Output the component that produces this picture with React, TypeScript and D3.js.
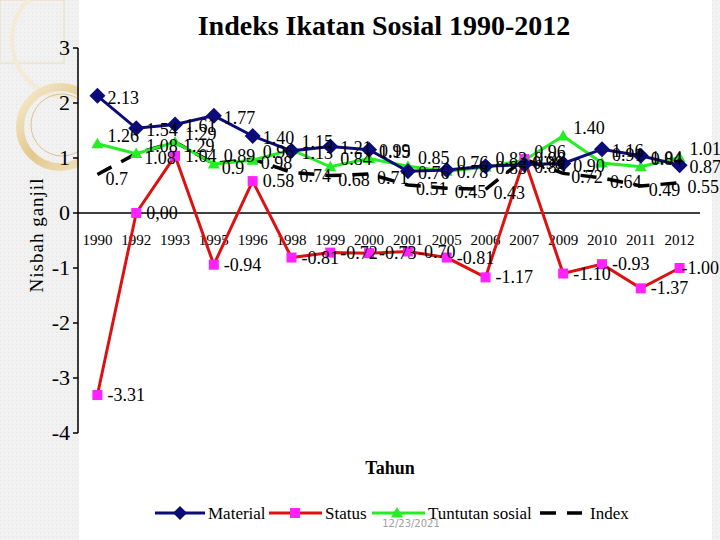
import React from "react";
import * as d3 from "d3";

const categories = ["1990","1992","1993","1995","1996","1998","1999","2000","2001","2005","2006","2007","2009","2010","2011","2012"];
const material = [2.13,1.54,1.61,1.77,1.40,1.13,1.21,1.15,0.76,0.78,0.85,0.88,0.90,1.16,1.04,0.87];
const status = [-3.31,0.00,1.04,-0.94,0.58,-0.81,-0.72,-0.73,-0.70,-0.81,-1.17,0.98,-1.10,-0.93,-1.37,-1.00];
const tuntutan = [1.26,1.08,1.29,0.89,0.96,1.15,0.84,0.99,0.85,0.76,0.83,0.96,1.40,0.91,0.84,1.01];
const indexVals = [0.7,1.08,1.29,0.90,0.98,0.74,0.68,0.71,0.51,0.45,0.43,0.98,0.72,0.64,0.49,0.55];
const yTicks = [3,2,1,0,-1,-2,-3,-4];

const W = 720, H = 540;
const serif = "'Liberation Serif', 'Times New Roman', serif";

export default function App() {
  const x = d3.scalePoint<string>().domain(categories).range([78, 699]).padding(0.5);
  const y = d3.scaleLinear().domain([-4, 3]).range([433, 48]);
  const line = d3.line<number>().x((_, i) => x(categories[i]) as number).y(d => y(d));

  const fmtStatus = (v: number) => (v === 0 ? "0,00" : v.toFixed(2));
  const fmt2 = (v: number) => v.toFixed(2);
  const fmtIdx = (v: number) => String(v);

  const labels = (vals: number[], f: (v: number) => string, key: string, dx = 10, dy = 6) =>
    vals.map((v, i) => (
      <text key={key + i} x={(x(categories[i]) as number) + (i === vals.length - 1 && key === "ls" ? 2 : dx)} y={y(v) + dy}
        fontFamily={serif} fontSize={18} fill="#000">{f(v)}</text>
    ));

  const diamond = (cx: number, cy: number, r: number, k: string) => (
    <path key={k} d={`M${cx},${cy - r}L${cx + r},${cy}L${cx},${cy + r}L${cx - r},${cy}Z`} fill="#0c0c78" />
  );
  const tri = (cx: number, cy: number, r: number, k: string) => (
    <path key={k} d={`M${cx},${cy - r}L${cx + r},${cy + r * 0.75}L${cx - r},${cy + r * 0.75}Z`} fill="#22ee22" />
  );

  return (
    <svg width={W} height={H} style={{ position: "absolute", left: 0, top: 0 }}>
      <defs>
        <pattern id="dots" width="4" height="4" patternUnits="userSpaceOnUse">
          <rect width="4" height="4" fill="#f1f1f1" />
          <rect width="1" height="1" fill="#e4e4e4" />
        </pattern>
        <linearGradient id="gold" x1="0" y1="0" x2="1" y2="1">
          <stop offset="0" stopColor="#f6ecd2" />
          <stop offset="0.5" stopColor="#e2c88e" />
          <stop offset="1" stopColor="#f3e6c6" />
        </linearGradient>
      </defs>
      <rect x={0} y={0} width={W} height={H} fill="url(#dots)" />
      <rect x={0} y={0} width={64} height={63} fill="none" stroke="#eadcbc" strokeWidth={1} />
      <circle cx={70} cy={40} r={58} fill="none" stroke="#f4ead6" strokeWidth={4} />
      <circle cx={60} cy={127} r={40} fill="none" stroke="url(#gold)" strokeWidth={8} />
      <circle cx={62} cy={125} r={31} fill="none" stroke="#dcc38c" strokeWidth={1} />
      <rect x={79} y={0} width={633} height={H} fill="#fff" />

      <text x={384} y={35} textAnchor="middle" fontFamily={serif} fontSize={28} fontWeight="bold">Indeks Ikatan Sosial 1990-2012</text>

      {/* axes */}
      <line x1={78} x2={78} y1={y(3)} y2={y(-4)} stroke="#000" strokeWidth={1.5} />
      <line x1={78} x2={700} y1={y(0)} y2={y(0)} stroke="#000" strokeWidth={1.5} />
      {yTicks.map(t => (
        <g key={"yt" + t}>
          <line x1={73} x2={78} y1={y(t)} y2={y(t)} stroke="#000" strokeWidth={1.5} />
          <text x={70} y={y(t) + 7} textAnchor="end" fontFamily={serif} fontSize={22}>{t}</text>
        </g>
      ))}
      {categories.map(c => (
        <text key={"xt" + c} x={x(c) as number} y={245} textAnchor="middle" fontFamily={serif} fontSize={15}>{c}</text>
      ))}
      <text transform="translate(43,235) rotate(-90)" textAnchor="middle" fontFamily={serif} fontSize={19} letterSpacing={1}>Nisbah ganjil</text>
      <text x={390} y={474} textAnchor="middle" fontFamily={serif} fontSize={18} fontWeight="bold">Tahun</text>

      {/* lines */}
      <path d={line(indexVals) || ""} fill="none" stroke="#000" strokeWidth={3.5} strokeDasharray="16,11" />
      <path d={line(tuntutan) || ""} fill="none" stroke="#22ee22" strokeWidth={3} />
      <path d={line(status) || ""} fill="none" stroke="#dd1111" strokeWidth={3} />
      <path d={line(material) || ""} fill="none" stroke="#0c0c78" strokeWidth={3} />

      {status.map((v, i) => (
        <rect key={"sq" + i} x={(x(categories[i]) as number) - 5} y={y(v) - 5} width={10} height={10} fill="#ff22ff" />
      ))}
      {tuntutan.map((v, i) => tri(x(categories[i]) as number, y(v), 6, "tr" + i))}
      {material.map((v, i) => diamond(x(categories[i]) as number, y(v), 8, "dm" + i))}

      {labels(indexVals, fmtIdx, "li", 8, 10)}
      {labels(tuntutan, fmt2, "lt", 10, -2)}
      {labels(status, fmtStatus, "ls", 10, 6)}
      {labels(material, fmt2, "lm", 10, 8)}

      {/* legend */}
      <g fontFamily={serif} fontSize={17}>
        <line x1={155} x2={205} y1={513} y2={513} stroke="#0c0c78" strokeWidth={3} />
        {diamond(180, 513, 7, "lgd")}
        <text x={208} y={519}>Material</text>
        <line x1={269} x2={322} y1={513} y2={513} stroke="#dd1111" strokeWidth={3} />
        <rect x={290} y={508} width={10} height={10} fill="#ff22ff" />
        <text x={325} y={519}>Status</text>
        <line x1={372} x2={425} y1={513} y2={513} stroke="#22ee22" strokeWidth={3} />
        {tri(397, 513, 6, "lgt")}
        <text x={428} y={519}>Tuntutan sosial</text>
        <line x1={540} x2={582} y1={513} y2={513} stroke="#000" strokeWidth={3.5} strokeDasharray="16,11" />
        <text x={590} y={519}>Index</text>
      </g>
      <text x={411} y={527} textAnchor="middle" fontFamily="'DejaVu Sans', sans-serif" fontSize={10} fill="#a0a0a0">12/23/2021</text>
    </svg>
  );
}
